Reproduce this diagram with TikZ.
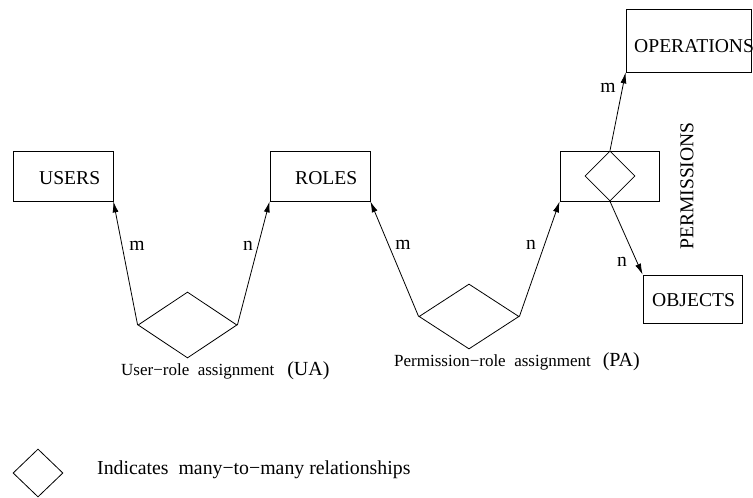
\documentclass[tikz,border=0pt]{standalone}
\usepackage{fontspec}
\setmainfont{Liberation Serif}
\usetikzlibrary{shapes.geometric,arrows.meta}
\newcommand{\bigtext}{\fontsize{19.6}{22}\selectfont}
\newcommand{\labeltext}{\fontsize{17}{20}\selectfont}
\begin{document}
\begin{tikzpicture}[x=1pt,y=-1pt,
  entity/.style={draw,line width=0.8pt,inner sep=0pt},
  rel/.style={draw,diamond,line width=0.8pt,inner sep=0pt},
  link/.style={line width=0.8pt,-{Latex[length=11pt,width=6pt]}},
  big/.style={font=\bigtext,inner sep=0pt}]
\useasboundingbox (0,0) rectangle (753,498);

% entity boxes
\node[entity,minimum width=100pt,minimum height=50pt] (users) at (63,176) {};
\node[entity,minimum width=100pt,minimum height=50pt] (roles) at (320,176) {};
\node[entity,minimum width=99pt,minimum height=50pt] (perm) at (609.5,176) {};
\node[entity,minimum width=125pt,minimum height=63pt] (ops) at (688.5,40.5) {};
\node[entity,minimum width=99pt,minimum height=48pt] (obj) at (692.5,299) {};

\node[big,anchor=west] (usersT) at (39,178) {USERS};
\node[big,anchor=west] (rolesT) at (295,178) {ROLES};
\node[big,anchor=west] (opsT) at (634,46) {OPERATIONS};
\node[big,anchor=west] (objT) at (652,300) {OBJECTS};
\node[big,rotate=90] (permT) at (687,186) {PERMISSIONS};

% relationship diamonds
\node[rel,minimum width=99pt,minimum height=66pt] (ua) at (187.5,325) {};
\node[rel,minimum width=100pt,minimum height=65pt] (pa) at (469,316.5) {};
\node[rel,minimum width=50pt,minimum height=50pt] (pd) at (610,176) {};

% connectors
\draw[link] (ua.west) -- (users.south east);
\draw[link] (ua.east) -- (roles.south west);
\draw[link] (pa.west) -- (roles.south east);
\draw[link] (pa.east) -- (perm.south west);
\draw[link] (pd.north) -- (ops.south west);
\draw[link] (pd.south) -- (obj.north west);

% cardinalities
\node[big] (m1) at (137,246) {m};
\node[big] (n1) at (248,246) {n};
\node[big] (m2) at (403,245) {m};
\node[big] (n2) at (531,245) {n};
\node[big] (m3) at (608,88) {m};
\node[big] (n3) at (622,262) {n};

% relationship names
\node[anchor=base west,inner sep=0pt] (uaT) at (121,375)
  {{\labeltext User−role\ \ assignment}\hspace{13pt}{\fontsize{20}{22}\selectfont (UA)}};
\node[anchor=base west,inner sep=0pt] (paT) at (394,366)
  {{\labeltext Permission−role\ \ assignment}\hspace{12pt}{\fontsize{20}{22}\selectfont (PA)}};

% legend
\node[rel,minimum width=50pt,minimum height=48pt] (leg) at (38,473) {};
\node[anchor=base west,inner sep=0pt,font=\fontsize{19.8}{22}\selectfont] (legT) at (97,474)
  {Indicates\ \ many−to−many relationships};
\end{tikzpicture}
\end{document}
